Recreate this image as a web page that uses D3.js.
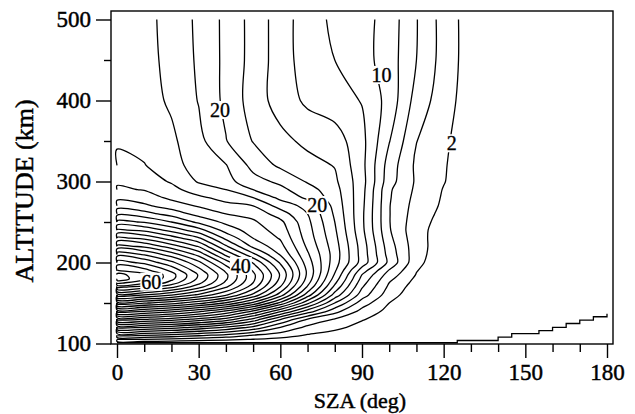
<!DOCTYPE html>
<html>
<head>
<meta charset="utf-8">
<script src="https://cdn.jsdelivr.net/npm/d3@7"></script>
<style>
  html, body { margin: 0; padding: 0; background: #fff; }
  svg { display: block; }
  text { font-family: "Liberation Serif", "Times New Roman", serif; fill: #000; }
</style>
</head>
<body>
<div id="chart"></div>
<script>
// grid columns (SZA, deg) and rows (altitude, km)
const szaGrid = [0, 10, 20, 30, 40, 50, 60, 70, 80, 90, 100, 110, 120, 130, 140, 160, 180];
const altGrid = [100, 105, 110, 120, 130, 140, 150, 160, 170, 175, 180, 185, 190, 200,
                 210, 220, 230, 240, 250, 260, 270, 280, 290, 300, 320, 350, 400, 450, 500];

// values, one row per altitude (same order as altGrid)
const field = [
  [0, 0, 0, 0, 0, 0, 0, 0, 0, 0, 0, 0, 0, 0, 0, 0, 0],
  [4.0, 3.9, 3.4, 2.8, 2.4, 1.9, 1.4, 0.9, 0.5, 0.2, 0, 0, 0, 0, 0, 0, 0],
  [8.2, 8.0, 7.3, 6.3, 5.3, 3.8, 2.9, 1.8, 1.0, 0.5, 0.1, 0, 0, 0, 0, 0, 0],
  [16.4, 16.0, 15.0, 13.5, 11.8, 9.5, 6.0, 3.5, 2.6, 1.2, 0.4, 0, 0, 0, 0, 0, 0],
  [24.6, 24.2, 23.2, 21.5, 19.3, 15.5, 10.2, 6.0, 3.9, 2.2, 0.9, 0.1, 0, 0, 0, 0, 0],
  [32.9, 32.2, 30.8, 28.6, 25.8, 21.8, 16.5, 11.2, 6.8, 3.4, 1.4, 0.3, 0, 0, 0, 0, 0],
  [41.0, 40.2, 38.8, 36.7, 33.8, 29.5, 23.5, 16.5, 10.0, 5.0, 2.0, 0.4, 0, 0, 0, 0, 0],
  [49.0, 48.0, 46.2, 43.6, 40.3, 35.5, 29.0, 21.0, 13.2, 7.0, 2.9, 0.6, 0, 0, 0, 0, 0],
  [56.6, 55.2, 52.6, 48.8, 44.3, 39.0, 32.0, 23.8, 15.5, 8.2, 3.6, 1.0, 0.1, 0, 0, 0, 0],
  [60.6, 58.6, 55.2, 50.6, 45.6, 40.0, 33.0, 24.7, 16.4, 8.8, 4.0, 1.3, 0.2, 0, 0, 0, 0],
  [63.0, 60.8, 56.6, 51.6, 46.3, 40.5, 33.6, 25.3, 17.2, 9.4, 4.5, 1.6, 0.3, 0, 0, 0, 0],
  [62.7, 60.6, 56.8, 51.8, 46.4, 40.5, 33.8, 25.6, 17.8, 10.0, 5.1, 1.9, 0.3, 0, 0, 0, 0],
  [60.1, 58.8, 55.6, 50.8, 45.6, 39.8, 33.4, 25.6, 18.3, 11.0, 5.8, 2.1, 0.35, 0, 0, 0, 0],
  [56.9, 55.5, 52.5, 48.5, 43.0, 37.8, 31.7, 25.0, 18.9, 13.2, 7.5, 2.6, 0.5, 0, 0, 0, 0],
  [53.2, 51.8, 49.0, 45.3, 39.5, 34.5, 29.8, 24.3, 19.1, 13.2, 7.2, 2.8, 0.7, 0, 0, 0, 0],
  [48.6, 47.6, 45.0, 41.8, 36.3, 31.5, 28.7, 23.6, 18.9, 13.1, 6.9, 2.8, 0.9, 0.1, 0, 0, 0],
  [44.5, 43.5, 41.0, 38.3, 33.5, 30.0, 27.8, 23.1, 18.6, 12.8, 6.5, 2.7, 1.0, 0.2, 0, 0, 0],
  [40.3, 39.5, 37.3, 34.8, 31.2, 29.0, 27.1, 22.8, 18.3, 12.5, 6.2, 2.6, 1.2, 0.2, 0, 0, 0],
  [36.6, 35.8, 34.0, 31.5, 29.5, 28.3, 26.5, 22.5, 18.0, 12.4, 6.1, 2.8, 1.3, 0.3, 0, 0, 0],
  [33.5, 32.8, 31.2, 29.3, 28.0, 27.4, 25.0, 22.0, 17.7, 12.4, 6.1, 3.0, 1.5, 0.4, 0, 0, 0],
  [31.1, 30.4, 29.0, 27.8, 26.6, 26.0, 23.2, 21.3, 17.4, 12.5, 6.1, 3.2, 1.7, 0.4, 0, 0, 0],
  [29.5, 28.9, 27.6, 26.4, 25.3, 24.0, 21.5, 19.6, 17.1, 12.6, 6.2, 3.4, 1.8, 0.5, 0, 0, 0],
  [28.3, 27.9, 26.6, 25.0, 24.0, 22.0, 20.5, 18.8, 16.8, 12.7, 6.3, 3.6, 1.9, 0.5, 0, 0, 0],
  [27.7, 27.0, 25.8, 23.8, 22.7, 20.7, 19.6, 17.8, 16.4, 12.8, 6.8, 3.7, 2.1, 0.6, 0, 0, 0],
  [26.6, 26.1, 24.6, 23.3, 22.1, 19.4, 17.6, 16.7, 15.9, 12.6, 7.1, 3.6, 2.2, 0.6, 0, 0, 0],
  [25.7, 25.2, 24.4, 22.6, 20.1, 17.9, 16.6, 15.5, 15.0, 12.6, 8.1, 4.05, 2.4, 0.7, 0.1, 0, 0],
  [25.4, 24.8, 23.7, 21.9, 19.5, 17.1, 15.1, 13.6, 12.8, 11.9, 9.25, 5.2, 2.9, 0.9, 0.2, 0, 0],
  [25.3, 24.7, 23.4, 21.7, 19.5, 17.3, 15.0, 13.0, 12.0, 10.8, 9.0, 6.0, 3.2, 1.0, 0.2, 0, 0],
  [25.2, 24.6, 23.3, 21.6, 19.5, 17.3, 15.0, 12.9, 11.6, 10.8, 9.1, 6.1, 3.2, 1.0, 0.2, 0, 0]
];

// contour levels
const levels = [2, 4, 6, 8, 10, 12, 14, 16, 18, 20, 22, 24, 26, 28, 30, 32,
                34, 36, 38, 40, 42, 44, 46, 48, 50, 52, 54, 56, 58, 60, 62];

// contour labels
const labelText = ['2', '10', '20', '20', '40', '60'];
const labelSza = [123.0, 97.2, 37.8, 73.6, 45.5, 12.6];
const labelAlt = [347.2, 431.5, 388.3, 271.0, 195.7, 176.3];

// stepped boundary near the bottom right
const stairSza = [0, 125, 140, 145, 155, 160, 165, 170, 175, 180];
const stairAlt = [100.9, 103.7, 107.8, 112.3, 116.0, 120.0, 124.7, 128.8, 133.0, 136.7];

const xTicks = [0, 30, 60, 90, 120, 150, 180];
const xMinor = [10, 20, 40, 50, 70, 80, 100, 110, 130, 140, 160, 170];
const yTicks = [100, 200, 300, 400, 500];
const yMinor = [150, 250, 350, 450];

const width = 635, height = 414;
const frame = {left: 111, right: 613, top: 11, bottom: 344};

const x = d3.scaleLinear().domain([0, 180]).range([117, 607]);
const y = d3.scaleLinear().domain([100, 500]).range([343.5, 19.5]);

const svg = d3.select('#chart').append('svg')
    .attr('width', width).attr('height', height);

// contours on the index grid, then mapped to sza / altitude
const nx = szaGrid.length, ny = altGrid.length;
const szaAt = d3.scaleLinear().domain(d3.range(nx)).range(szaGrid).clamp(true);
const altAt = d3.scaleLinear().domain(d3.range(ny)).range(altGrid).clamp(true);

const contours = d3.contours().size([nx, ny]).thresholds(levels)(field.flat());

function onEdge(p) {
    return p[0] <= 0 || p[0] >= nx || p[1] <= 0 || p[1] >= ny;
}
// only the left border points are interpolated by d3, keep those
function keepPoint(p) {
    return !onEdge(p) || (p[0] <= 0 && p[1] > 0 && p[1] < ny);
}

// split a ring into open pieces, dropping the parts that run along the grid border
function splitRing(ring) {
    let pts = ring.slice();
    const a = pts[0], b = pts[pts.length - 1];
    if (a[0] === b[0] && a[1] === b[1]) pts.pop();
    const k = pts.findIndex(onEdge);
    if (k < 0) return [{closed: true, pts: pts}];
    const rot = pts.slice(k).concat(pts.slice(0, k + 1));
    const runs = [];
    let cur = null;
    for (let i = 0; i < rot.length - 1; i++) {
        const p = rot[i], q = rot[i + 1];
        if (onEdge(p) && onEdge(q)) {
            if (cur) { runs.push(cur); cur = null; }
            continue;
        }
        if (!cur) {
            cur = [];
            if (keepPoint(p)) cur.push(p);
        }
        if (keepPoint(q)) cur.push(q);
    }
    if (cur) runs.push(cur);
    return runs.map(r => ({closed: false, pts: r}));
}

function toPixel(p) {
    return [x(szaAt(p[0] - 0.5)), y(altAt(p[1] - 0.5))];
}

const openLine = d3.line().curve(d3.curveCatmullRom.alpha(0.5));
const closedLine = d3.line().curve(d3.curveCatmullRomClosed.alpha(0.5));

const pieces = [];
contours.forEach(c => {
    c.coordinates.forEach(poly => {
        poly.forEach(ring => {
            splitRing(ring).forEach(s => {
                let px = s.pts.map(toPixel);
                px = px.filter((p, i) => i === 0 || Math.abs(p[0] - px[i - 1][0]) > 0.01 || Math.abs(p[1] - px[i - 1][1]) > 0.01);
                if (px.length > 1) pieces.push({closed: s.closed, px: px});
            });
        });
    });
});

svg.append('g')
    .selectAll('path')
    .data(pieces)
    .enter().append('path')
    .attr('d', d => d.closed ? closedLine(d.px) : openLine(d.px))
    .attr('fill', 'none')
    .attr('stroke', '#000')
    .attr('stroke-width', 1.3);

// stepped line
svg.append('path')
    .datum(stairSza.map((s, i) => [s, stairAlt[i]]))
    .attr('d', d3.line().x(d => x(d[0])).y(d => y(d[1])).curve(d3.curveStepAfter))
    .attr('fill', 'none')
    .attr('stroke', '#000')
    .attr('stroke-width', 1.3);

// contour labels with white backing
const lab = svg.append('g');
labelText.forEach((t, i) => {
    const g = lab.append('g');
    const txt = g.append('text')
        .attr('x', x(labelSza[i]))
        .attr('y', y(labelAlt[i]))
        .attr('dy', '0.35em')
        .attr('text-anchor', 'middle')
        .style('font-size', '20px')
        .style('stroke', '#000')
        .style('stroke-width', '0.35px')
        .text(t);
    const bb = txt.node().getBBox();
    g.insert('rect', 'text')
        .attr('x', bb.x - 1).attr('y', bb.y + 2)
        .attr('width', bb.width + 2).attr('height', bb.height - 4)
        .attr('fill', '#fff');
});

// frame
svg.append('rect')
    .attr('x', frame.left).attr('y', frame.top)
    .attr('width', frame.right - frame.left)
    .attr('height', frame.bottom - frame.top)
    .attr('fill', 'none')
    .attr('stroke', '#000')
    .attr('stroke-width', 1.4);

// axes
const yAxis = svg.append('g')
    .attr('transform', `translate(${frame.left},0)`)
    .call(d3.axisLeft(y).tickValues(yTicks).tickSize(15).tickPadding(5));
const yAxisMinor = svg.append('g')
    .attr('transform', `translate(${frame.left},0)`)
    .call(d3.axisLeft(y).tickValues(yMinor).tickSize(7).tickFormat(''));
const xAxis = svg.append('g')
    .attr('transform', `translate(0,${frame.bottom})`)
    .call(d3.axisBottom(x).tickValues(xTicks).tickSize(14).tickPadding(6));
const xAxisMinor = svg.append('g')
    .attr('transform', `translate(0,${frame.bottom})`)
    .call(d3.axisBottom(x).tickValues(xMinor).tickSize(8).tickFormat(''));

[yAxis, yAxisMinor, xAxis, xAxisMinor].forEach(a => {
    a.select('.domain').remove();
    a.selectAll('line').attr('stroke', '#000').attr('stroke-width', 1.4);
    a.selectAll('text')
        .style('font-family', '"Liberation Serif", "Times New Roman", serif')
        .style('font-size', '23px')
        .style('stroke', '#000')
        .style('stroke-width', '0.45px')
        .attr('fill', '#000');
});

// axis titles
svg.append('text')
    .attr('x', 360).attr('y', 408)
    .attr('text-anchor', 'middle')
    .style('font-size', '22px')
    .style('stroke', '#000')
    .style('stroke-width', '0.45px')
    .text('SZA (deg)');

svg.append('text')
    .attr('transform', 'translate(33,191) rotate(-90)')
    .attr('text-anchor', 'middle')
    .style('font-size', '26px')
    .style('stroke', '#000')
    .style('stroke-width', '0.45px')
    .text('ALTITUDE (km)');
</script>
</body>
</html>
